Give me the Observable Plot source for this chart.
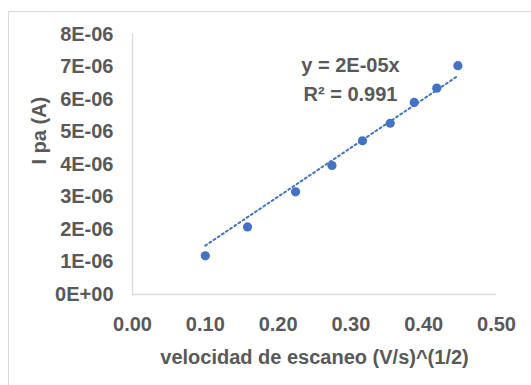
<!DOCTYPE html>
<html>
<head>
<meta charset="utf-8">
<script src="https://cdn.jsdelivr.net/npm/d3@7"></script>
<script src="https://cdn.jsdelivr.net/npm/@observablehq/plot@0.6"></script>
<style>
  html, body { margin: 0; padding: 0; background: #fff; }
  #wrap { position: relative; width: 531px; height: 385px; overflow: hidden; }
  #border { position: absolute; left: 8px; top: 11px; width: 600px; height: 500px; border: 1px solid #d9d9d9; box-sizing: border-box; }
  #chart { position: absolute; left: 0; top: 0; }
</style>
</head>
<body>
<div id="wrap"><div id="border"></div><div id="chart"></div></div>
<script>
// Data
const xValues = [0.100, 0.158, 0.224, 0.274, 0.316, 0.354, 0.387, 0.418, 0.447];
const yValues = [1.19e-6, 2.08e-6, 3.16e-6, 3.97e-6, 4.73e-6, 5.27e-6, 5.91e-6, 6.35e-6, 7.04e-6];
const xTicks = [0, 0.1, 0.2, 0.3, 0.4, 0.5];
const yTicks = [0, 1e-6, 2e-6, 3e-6, 4e-6, 5e-6, 6e-6, 7e-6, 8e-6];
const equationText = "y = 2E-05x";
const r2Text = "R² = 0.991";
const xTitle = "velocidad de escaneo (V/s)^(1/2)";
const yTitle = "I pa (A)";

const points = xValues.map((x, i) => ({x, y: yValues[i]}));
// Linear trendline through the origin (least squares)
const slope = d3.sum(points, d => d.x * d.y) / d3.sum(points, d => d.x * d.x);
const xMin = d3.min(xValues), xMax = d3.max(xValues);
const trend = [{x: xMin, y: slope * xMin}, {x: xMax, y: slope * xMax}];

const fmtY = v => v === 0 ? "0E+00" : (Math.round(v / 1e-6) + "E-06");
const gray = "#595959";
const blue = "#4472C4";

const plot = Plot.plot({
  width: 531,
  height: 385,
  marginLeft: 132,
  marginRight: 35,
  marginTop: 34,
  marginBottom: 91,
  style: {fontFamily: "'Liberation Sans', Arial, sans-serif", fontSize: "20px", fontWeight: "bold", color: gray, background: "transparent", overflow: "visible"},
  x: {domain: [0, 0.5], ticks: xTicks},
  y: {domain: [0, 8e-6], ticks: yTicks},
  marks: [
    Plot.ruleX([0], {stroke: "#d9d9d9", strokeWidth: 1.3}),
    Plot.ruleY([0], {stroke: "#d9d9d9", strokeWidth: 1.3}),
    Plot.axisX({ticks: xTicks, tickSize: 0, tickPadding: 22, tickFormat: d => d.toFixed(2), label: null, fill: gray, fontSize: 20, fontWeight: "bold"}),
    Plot.axisY({ticks: yTicks, tickSize: 0, tickPadding: 19, tickFormat: fmtY, label: null, fill: gray, fontSize: 20, fontWeight: "bold"}),
    Plot.line(trend, {x: "x", y: "y", stroke: blue, strokeWidth: 2, strokeDasharray: "2,3"}),
    Plot.dot(points, {x: "x", y: "y", r: 4.6, fill: blue, stroke: "none"}),
    Plot.text([equationText], {frameAnchor: "top", dx: 36, dy: 31, text: d => d, fill: gray, fontSize: 20, fontWeight: "bold", lineAnchor: "middle"}),
    Plot.text([r2Text], {frameAnchor: "top", dx: 36, dy: 60, text: d => d, fill: gray, fontSize: 20, fontWeight: "bold", lineAnchor: "middle"}),
    Plot.text([xTitle], {frameAnchor: "bottom", dy: 63, text: d => d, fill: gray, fontSize: 20, fontWeight: "bold", lineAnchor: "middle"}),
    Plot.text([yTitle], {frameAnchor: "left", dx: -93, rotate: -90, text: d => d, fill: gray, fontSize: 20, fontWeight: "bold", lineAnchor: "middle"})
  ]
});
document.getElementById("chart").appendChild(plot);
</script>
</body>
</html>
